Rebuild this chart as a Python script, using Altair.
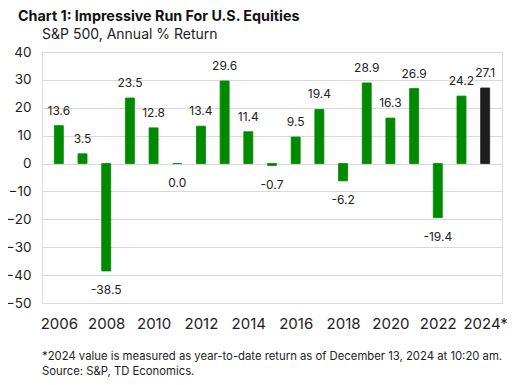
import altair as alt
import pandas as pd

years = list(range(2006, 2025))
returns = [13.6, 3.5, -38.5, 23.5, 12.8, 0.0, 13.4, 29.6, 11.4, -0.7,
           9.5, 19.4, -6.2, 28.9, 16.3, 26.9, -19.4, 24.2, 27.1]
kinds = ["Annual"] * 18 + ["YTD"]
labels = [f"{v:.1f}" for v in returns]
y_ticks = [-50, -40, -30, -20, -10, 0, 10, 20, 30, 40]
x_ticks = [2006, 2008, 2010, 2012, 2014, 2016, 2018, 2020, 2022, 2024]

title_text = "Chart 1: Impressive Run For U.S. Equities"
subtitle_text = "S&P 500, Annual % Return"
foot1 = "*2024 value is measured  as year-to-date return as of December 13, 2024  at 10:20  am."
foot2 = "Source: S&P, TD Economics."

FONT = "Inter"
df = pd.DataFrame({"year": years, "ret": returns, "kind": kinds, "label": labels})

xenc = alt.X("year:Q",
             scale=alt.Scale(domain=[2005.5, 2024.5], nice=False, zero=False),
             axis=alt.Axis(values=x_ticks, format="d",
                           labelExpr="datum.value == 2024 ? '2024*' : datum.label",
                           title=None, grid=False, domain=False, ticks=False,
                           labelOverlap=False, labelFlush=False,
                           labelPadding=13, labelFontSize=15, labelColor="#222",
                           labelFont=FONT))
yenc = alt.Y("ret:Q",
             scale=alt.Scale(domain=[-50, 40], nice=False),
             axis=alt.Axis(values=y_ticks, title=None, format="d",
                           domain=False, ticks=False, grid=True, gridColor="#d9d9d9",
                           labelOverlap=False, labelFlush=False,
                           labelPadding=11, labelFontSize=13.5, labelColor="#222",
                           labelFont=FONT))

base = alt.Chart(df).encode(x=xenc, y=yenc)
cscale = alt.Scale(domain=["Annual", "YTD"], range=["#008A00", "#1E1E1E"])
bars = base.mark_bar(size=9, strokeWidth=0.8).encode(
    color=alt.Color("kind:N", scale=cscale, legend=None),
    stroke=alt.Stroke("kind:N", scale=cscale, legend=None),
)
pos = base.transform_filter("datum.ret > 0").mark_text(
    baseline="alphabetic", dy=-11, fontSize=12, font=FONT, color="#222"
).encode(text="label:N")
neg = base.transform_filter("datum.ret <= 0").mark_text(
    baseline="top", dy=14, fontSize=12, font=FONT, color="#222"
).encode(text="label:N")

one = pd.DataFrame({"t": [title_text], "s": [subtitle_text], "f1": [foot1], "f2": [foot2]})
title = alt.Chart(one).mark_text(align="left", baseline="alphabetic", fontSize=14.3,
                                 fontWeight="bold", font=FONT, color="#111").encode(
    x=alt.value(-24), y=alt.value(-31), text="t:N")
sub = alt.Chart(one).mark_text(align="left", baseline="alphabetic", fontSize=14,
                               font=FONT, color="#222").encode(
    x=alt.value(0), y=alt.value(-13), text="s:N")
f1 = alt.Chart(one).mark_text(align="left", baseline="alphabetic", fontSize=11.3,
                              font=FONT, color="#222").encode(
    x=alt.value(0), y=alt.value(308), text="f1:N")
f2 = alt.Chart(one).mark_text(align="left", baseline="alphabetic", fontSize=11.3,
                              font=FONT, color="#222").encode(
    x=alt.value(0), y=alt.value(323), text="f2:N")

chart = alt.layer(bars, pos, neg, title, sub, f1, f2).properties(
    width=460, height=251,
    autosize=alt.AutoSizeParams(type="none"),
    padding={"left": 34, "top": 44, "right": 6, "bottom": 74},
).configure_view(stroke=None).configure(background="white")

chart.save("out.html", embed_options={"renderer": "svg", "actions": False})
